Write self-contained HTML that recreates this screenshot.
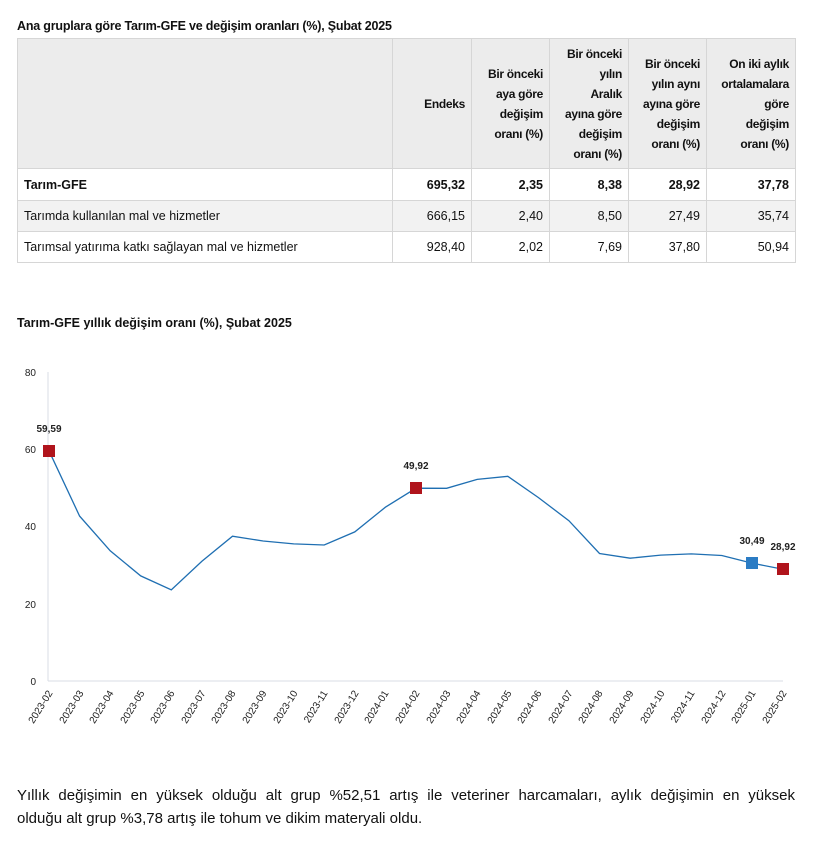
<!DOCTYPE html>
<html><head><meta charset="utf-8"><style>
body{margin:0;background:#fff;font-family:"Liberation Sans",sans-serif;color:#111;width:822px;height:845px;position:relative;overflow:hidden}
.t1{position:absolute;left:17px;top:19px;font-size:12.5px;font-weight:bold;letter-spacing:-0.2px}
table{position:absolute;left:17px;top:38px;border-collapse:collapse;font-size:12.5px;table-layout:fixed;width:778px}
td,th{border:1px solid #d6d6d6;padding:0 6px;text-align:right}
th{background:#ececec;font-weight:bold;height:129px;line-height:20px;vertical-align:middle;font-size:12px;letter-spacing:-0.3px}
td{height:30px}
td:first-child{text-align:left}
tr.b td{font-weight:bold;height:31px}
tr.g td{background:#f2f2f2}
.t2{position:absolute;left:17px;top:316px;font-size:12.5px;font-weight:bold}
.p1,.p2{position:absolute;left:17px;width:778px;margin:0;font-size:15px;line-height:23px}
.p1{top:784px;text-align:justify;text-align-last:justify}
.p2{top:807px}
</style></head><body>
<div class="t1">Ana gruplara göre Tarım-GFE ve değişim oranları (%), Şubat 2025</div>
<table>
<colgroup><col style="width:375px"><col style="width:79px"><col style="width:78px"><col style="width:79px"><col style="width:78px"><col style="width:89px"></colgroup>
<tr><th style="background:#ececec"></th><th>Endeks</th><th>Bir önceki<br>aya göre<br>değişim<br>oranı (%)</th><th>Bir önceki<br>yılın<br>Aralık<br>ayına göre<br>değişim<br>oranı (%)</th><th>Bir önceki<br>yılın aynı<br>ayına göre<br>değişim<br>oranı (%)</th><th>On iki aylık<br>ortalamalara<br>göre<br>değişim<br>oranı (%)</th></tr>
<tr class="b"><td>Tarım-GFE</td><td>695,32</td><td>2,35</td><td>8,38</td><td>28,92</td><td>37,78</td></tr>
<tr class="g"><td>Tarımda kullanılan mal ve hizmetler</td><td>666,15</td><td>2,40</td><td>8,50</td><td>27,49</td><td>35,74</td></tr>
<tr><td>Tarımsal yatırıma katkı sağlayan mal ve hizmetler</td><td>928,40</td><td>2,02</td><td>7,69</td><td>37,80</td><td>50,94</td></tr>
</table>
<div class="t2">Tarım-GFE yıllık değişim oranı (%), Şubat 2025</div>
<svg style="position:absolute;left:0;top:0" width="822" height="845" font-family="Liberation Sans, sans-serif">
<line x1="48" y1="372" x2="48" y2="681" stroke="#d8dde6"/>
<line x1="48" y1="681" x2="783" y2="681" stroke="#d8dde6"/>
<g font-size="10" fill="#222" text-anchor="end">
<text x="36" y="376">80</text><text x="36" y="453">60</text><text x="36" y="530">40</text><text x="36" y="608">20</text><text x="36" y="685">0</text>
</g>
<polyline fill="none" stroke="#1f6fb2" stroke-width="1.3" points="49.0,450.8 79.6,516.1 110.2,550.8 140.7,575.9 171.3,589.8 201.9,561.3 232.5,536.2 263.1,541.0 293.7,543.9 324.2,545.0 354.8,531.9 385.4,507.2 416.0,488.2 446.6,488.3 477.2,479.4 507.8,476.3 538.3,497.5 568.9,520.7 599.5,553.5 630.1,558.2 660.7,555.1 691.3,553.9 721.8,555.5 752.4,563.2 783.0,569.3"/>
<rect x="43" y="445" width="12" height="12" fill="#b0141c"/>
<rect x="410" y="482" width="12" height="12" fill="#b0141c"/>
<rect x="746" y="557" width="12" height="12" fill="#2b7cc4"/>
<rect x="777" y="563" width="12" height="12" fill="#b0141c"/>
<g font-size="10" font-weight="bold" fill="#222" text-anchor="middle">
<text x="49" y="432">59,59</text><text x="416" y="469">49,92</text><text x="752" y="544">30,49</text><text x="783" y="550">28,92</text>
</g>
<g font-size="10" fill="#222" text-anchor="end">
<text transform="translate(53,693) rotate(-58)">2023-02</text><text transform="translate(84,693) rotate(-58)">2023-03</text><text transform="translate(114,693) rotate(-58)">2023-04</text><text transform="translate(145,693) rotate(-58)">2023-05</text><text transform="translate(175,693) rotate(-58)">2023-06</text><text transform="translate(206,693) rotate(-58)">2023-07</text><text transform="translate(236,693) rotate(-58)">2023-08</text><text transform="translate(267,693) rotate(-58)">2023-09</text><text transform="translate(298,693) rotate(-58)">2023-10</text><text transform="translate(328,693) rotate(-58)">2023-11</text><text transform="translate(359,693) rotate(-58)">2023-12</text><text transform="translate(389,693) rotate(-58)">2024-01</text><text transform="translate(420,693) rotate(-58)">2024-02</text><text transform="translate(451,693) rotate(-58)">2024-03</text><text transform="translate(481,693) rotate(-58)">2024-04</text><text transform="translate(512,693) rotate(-58)">2024-05</text><text transform="translate(542,693) rotate(-58)">2024-06</text><text transform="translate(573,693) rotate(-58)">2024-07</text><text transform="translate(603,693) rotate(-58)">2024-08</text><text transform="translate(634,693) rotate(-58)">2024-09</text><text transform="translate(665,693) rotate(-58)">2024-10</text><text transform="translate(695,693) rotate(-58)">2024-11</text><text transform="translate(726,693) rotate(-58)">2024-12</text><text transform="translate(756,693) rotate(-58)">2025-01</text><text transform="translate(787,693) rotate(-58)">2025-02</text>
</g>
</svg>
<div class="p1">Yıllık değişimin en yüksek olduğu alt grup %52,51 artış ile veteriner harcamaları, aylık değişimin en yüksek</div>
<div class="p2">olduğu alt grup %3,78 artış ile tohum ve dikim materyali oldu.</div>
</body></html>
